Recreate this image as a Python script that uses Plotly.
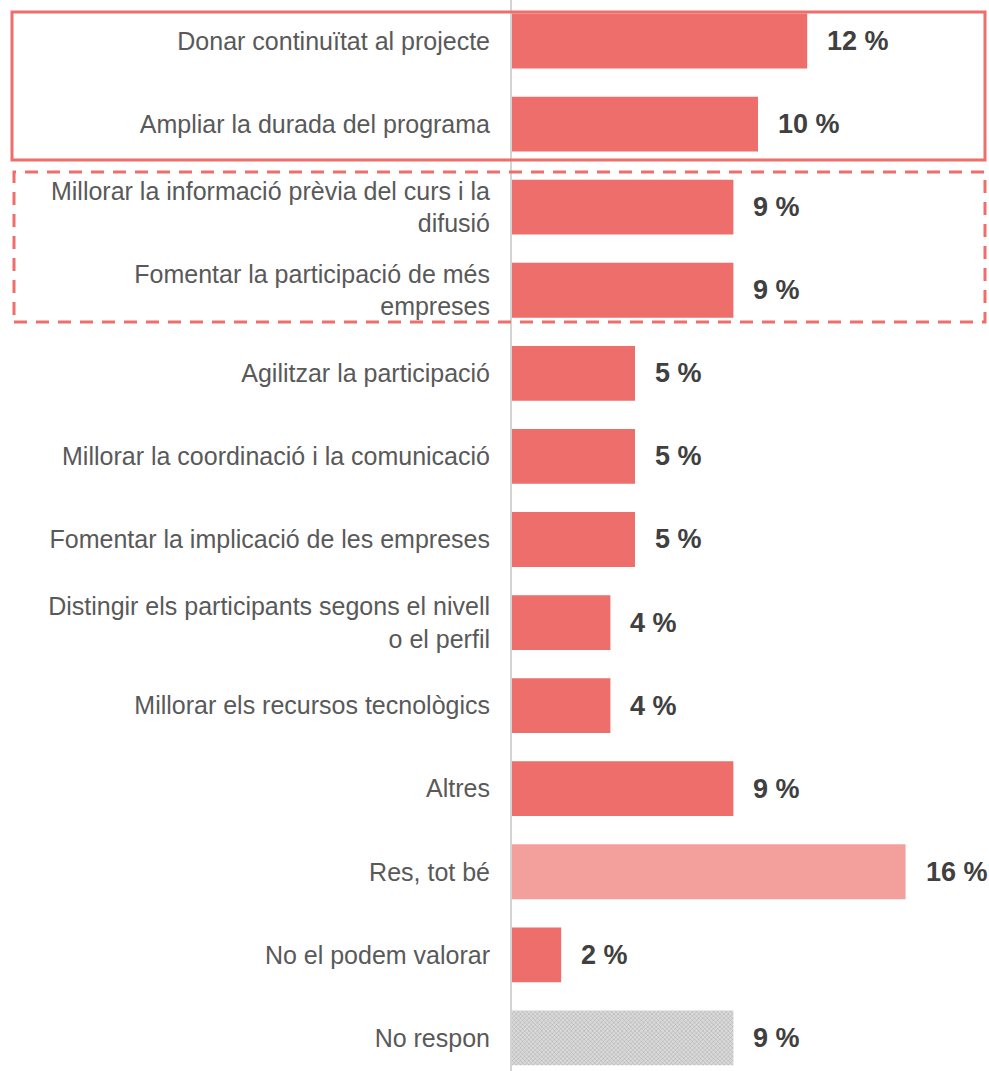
import plotly.graph_objects as go

categories = [
    "Donar continuïtat al projecte",
    "Ampliar la durada del programa",
    "Millorar la informació prèvia del curs i la<br>difusió",
    "Fomentar la participació de més<br>empreses",
    "Agilitzar la participació",
    "Millorar la coordinació i la comunicació",
    "Fomentar la implicació de les empreses",
    "Distingir els participants segons el nivell<br>o el perfil",
    "Millorar els recursos tecnològics",
    "Altres",
    "Res, tot bé",
    "No el podem valorar",
    "No respon",
]
values = [12, 10, 9, 9, 5, 5, 5, 4, 4, 9, 16, 2, 9]
value_labels = ["12 %", "10 %", "9 %", "9 %", "5 %", "5 %", "5 %", "4 %", "4 %", "9 %", "16 %", "2 %", "9 %"]

RED = "#ED6E6A"
PINK = "#F3A09C"
GREY = "#DADADA"
bar_colors = [RED] * 10 + [PINK, RED, GREY]
pattern_shapes = [""] * 12 + ["x"]

FONT = "Liberation Sans, Arial, sans-serif"

fig = go.Figure()
fig.add_trace(go.Bar(
    y=categories,
    x=values,
    orientation="h",
    width=0.66,
    marker=dict(
        color=bar_colors,
        line=dict(width=0),
        pattern=dict(shape=pattern_shapes, fillmode="overlay",
                     fgcolor="#D0D0D0", size=3, solidity=0.2),
    ),
    hoverinfo="skip",
))

# value labels placed just past the end of each bar
for cat, v, lab in zip(categories, values, value_labels):
    fig.add_annotation(
        x=v, y=cat, text=lab, showarrow=False,
        xanchor="left", yanchor="middle", xshift=18,
        font=dict(family=FONT, size=27, color="#404040", weight="bold"),
    )

# highlight frames around the first two groups
fig.add_shape(type="rect", xref="paper", yref="paper",
              x0=(12 - 512) / 477, x1=(985 - 512) / 477,
              y0=1 - 160 / 1071, y1=1 - 12 / 1071,
              line=dict(color=RED, width=3), fillcolor="rgba(0,0,0,0)")
fig.add_shape(type="rect", xref="paper", yref="paper",
              x0=(14 - 512) / 477, x1=(985 - 512) / 477,
              y0=1 - 322 / 1071, y1=1 - 172 / 1071,
              line=dict(color=RED, width=3, dash="13px,9px"), fillcolor="rgba(0,0,0,0)")

fig.update_layout(
    width=989, height=1071,
    margin=dict(l=512, r=0, t=0, b=0),
    paper_bgcolor="white", plot_bgcolor="white",
    showlegend=False,
    bargap=0.34,
    font=dict(family=FONT),
)
fig.update_xaxes(range=[0, 477 / 24.6], visible=False, showgrid=False, zeroline=False)
fig.update_yaxes(
    categoryorder="array", categoryarray=categories,
    range=[12.398, -0.4935],
    showgrid=False, zeroline=False,
    showline=True, linecolor="#D4D4D4", linewidth=2,
    ticks="", ticklabelstandoff=15,
    tickfont=dict(family=FONT, size=25, color="#595959"),
)

fig.write_html("out.html")
